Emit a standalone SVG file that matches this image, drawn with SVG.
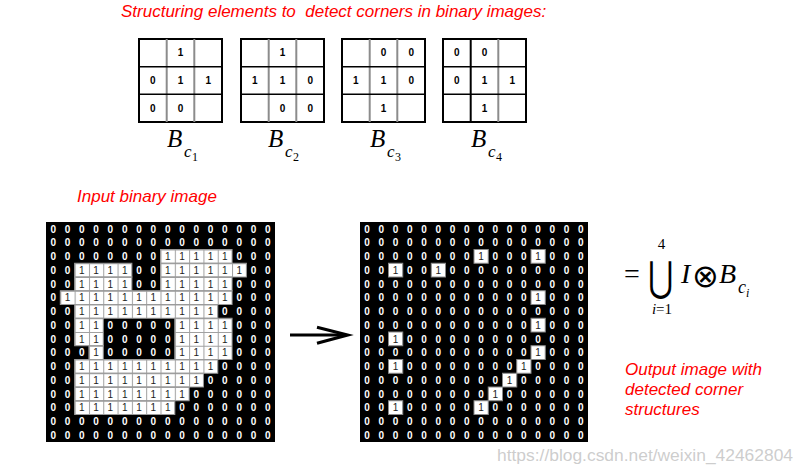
<svg xmlns="http://www.w3.org/2000/svg" width="801" height="473" viewBox="0 0 801 473">
<style>
.red{fill:#ff0000;font-family:"Liberation Sans",Arial,sans-serif;font-style:italic;font-size:17px}
.z{fill:#ffffff;font-family:"Liberation Sans",Arial,sans-serif;font-weight:bold;font-size:10px;text-anchor:middle}
.o{fill:#222222;font-weight:normal}
.se{fill:#000;font-family:"Liberation Sans",Arial,sans-serif;font-weight:bold;font-size:10px;text-anchor:middle}
.box{fill:#fff;stroke:#000;stroke-width:2}
.vl{stroke:#8c8c8c;stroke-width:2}
.hl{stroke:#000;stroke-width:1.5}
.mi{font-family:"Liberation Serif","Times New Roman",serif;font-style:italic;fill:#000}
.mr{font-family:"Liberation Serif","Times New Roman",serif;fill:#000}
.wc{fill:url(#cellIn);stroke:#9a9a9a;stroke-width:1}
.oc{fill:#fff;stroke:#8a8a8a;stroke-width:1}
</style>
<defs>
<pattern id="cellIn" patternUnits="userSpaceOnUse" x="46" y="222" width="14.3125" height="13.75">
<rect width="14.3125" height="13.75" fill="#fff"/>
<path d="M0 0.5H14.3125M0.5 0V13.75" stroke="#a0a0a0" stroke-width="1" fill="none"/>
</pattern>
</defs>
<rect width="801" height="473" fill="#fff"/>

<text id="title" class="red" x="121" y="17" xml:space="preserve">Structuring elements to  detect corners in binary images:</text>

<g id="se1">
<rect class="box" x="139" y="39" width="83" height="83"/>
<line class="vl" x1="166.7" y1="39" x2="166.7" y2="122"/><line class="vl" x1="194.3" y1="39" x2="194.3" y2="122"/>
<line class="hl" x1="139" y1="66.7" x2="222" y2="66.7"/><line class="hl" x1="139" y1="94.3" x2="222" y2="94.3"/>
<text class="se" x="180.5" y="56.4">1</text>
<text class="se" x="152.8 180.5 208.2" y="84.1">011</text>
<text class="se" x="152.8 180.5" y="111.8">00</text>
<text class="mi" x="167" y="147" font-size="25">B</text><text class="mi" x="184" y="157" font-size="17">c</text><text class="mr" x="192" y="161" font-size="12">1</text>
</g>
<g id="se2">
<rect class="box" x="241" y="39" width="83" height="83"/>
<line class="vl" x1="268.7" y1="39" x2="268.7" y2="122"/><line class="vl" x1="296.3" y1="39" x2="296.3" y2="122"/>
<line class="hl" x1="241" y1="66.7" x2="324" y2="66.7"/><line class="hl" x1="241" y1="94.3" x2="324" y2="94.3"/>
<text class="se" x="282.5" y="56.4">1</text>
<text class="se" x="254.8 282.5 310.2" y="84.1">110</text>
<text class="se" x="282.5 310.2" y="111.8">00</text>
<text class="mi" x="268" y="147" font-size="25">B</text><text class="mi" x="285" y="157" font-size="17">c</text><text class="mr" x="293" y="161" font-size="12">2</text>
</g>
<g id="se3">
<rect class="box" x="342" y="39" width="83" height="83"/>
<line class="vl" x1="369.7" y1="39" x2="369.7" y2="122"/><line class="vl" x1="397.3" y1="39" x2="397.3" y2="122"/>
<line class="hl" x1="342" y1="66.7" x2="425" y2="66.7"/><line class="hl" x1="342" y1="94.3" x2="425" y2="94.3"/>
<text class="se" x="383.5 411.2" y="56.4">00</text>
<text class="se" x="355.8 383.5 411.2" y="84.1">110</text>
<text class="se" x="383.5" y="111.8">1</text>
<text class="mi" x="370" y="147" font-size="25">B</text><text class="mi" x="387" y="157" font-size="17">c</text><text class="mr" x="395" y="161" font-size="12">3</text>
</g>
<g id="se4">
<rect class="box" x="443" y="39" width="83" height="83"/>
<line class="hl" x1="470.7" y1="39" x2="470.7" y2="122" style="stroke-width:2"/><line class="vl" x1="498.3" y1="39" x2="498.3" y2="122"/>
<line class="hl" x1="443" y1="66.7" x2="526" y2="66.7"/><line class="hl" x1="443" y1="94.3" x2="526" y2="94.3"/>
<text class="se" x="456.8 484.5" y="56.4">00</text>
<text class="se" x="456.8 484.5 512.2" y="84.1">011</text>
<text class="se" x="484.5" y="111.8">1</text>
<text class="mi" x="471" y="147" font-size="25">B</text><text class="mi" x="488" y="157" font-size="17">c</text><text class="mr" x="496" y="161" font-size="12">4</text>
</g>

<text id="inputLabel" class="red" x="77" y="202">Input binary image</text>

<g id="inputImage">
<rect x="46" y="222" width="229" height="220" fill="#000"/>
<rect class="wc" x="160.5" y="249.5" width="71.56" height="13.75"/>
<rect class="wc" x="74.63" y="263.25" width="57.25" height="13.75"/>
<rect class="wc" x="160.5" y="263.25" width="85.88" height="13.75"/>
<rect class="wc" x="74.63" y="277" width="57.25" height="13.75"/>
<rect class="wc" x="160.5" y="277" width="71.56" height="13.75"/>
<rect class="wc" x="60.31" y="290.75" width="171.75" height="13.75"/>
<rect class="wc" x="74.63" y="304.5" width="143.13" height="13.75"/>
<rect class="wc" x="74.63" y="318.25" width="28.63" height="27.5"/>
<rect class="wc" x="174.81" y="318.25" width="57.25" height="41.25"/>
<rect class="wc" x="88.94" y="345.75" width="14.31" height="13.75"/>
<rect class="wc" x="74.63" y="359.5" width="143.13" height="13.75"/>
<rect class="wc" x="74.63" y="373.25" width="128.81" height="13.75"/>
<rect class="wc" x="74.63" y="387" width="114.5" height="13.75"/>
<rect class="wc" x="74.63" y="400.75" width="100.19" height="13.75"/>
<text class="z" x="53.2 67.5 81.8 96.1 110.4 124.7 139 153.3 167.7 182 196.3 210.6 224.9 239.2 253.5 267.8" y="232.5">0000000000000000</text>
<text class="z" x="53.2 67.5 81.8 96.1 110.4 124.7 139 153.3 167.7 182 196.3 210.6 224.9 239.2 253.5 267.8" y="246.3">0000000000000000</text>
<text class="z" x="53.2 67.5 81.8 96.1 110.4 124.7 139 153.3 167.7 182 196.3 210.6 224.9 239.2 253.5 267.8" y="260">00000000<tspan class="o">11111</tspan>000</text>
<text class="z" x="53.2 67.5 81.8 96.1 110.4 124.7 139 153.3 167.7 182 196.3 210.6 224.9 239.2 253.5 267.8" y="273.8">00<tspan class="o">1111</tspan>00<tspan class="o">111111</tspan>00</text>
<text class="z" x="53.2 67.5 81.8 96.1 110.4 124.7 139 153.3 167.7 182 196.3 210.6 224.9 239.2 253.5 267.8" y="287.5">00<tspan class="o">1111</tspan>00<tspan class="o">11111</tspan>000</text>
<text class="z" x="53.2 67.5 81.8 96.1 110.4 124.7 139 153.3 167.7 182 196.3 210.6 224.9 239.2 253.5 267.8" y="301.3">0<tspan class="o">111111111111</tspan>000</text>
<text class="z" x="53.2 67.5 81.8 96.1 110.4 124.7 139 153.3 167.7 182 196.3 210.6 224.9 239.2 253.5 267.8" y="315">00<tspan class="o">1111111111</tspan>0000</text>
<text class="z" x="53.2 67.5 81.8 96.1 110.4 124.7 139 153.3 167.7 182 196.3 210.6 224.9 239.2 253.5 267.8" y="328.8">00<tspan class="o">11</tspan>00000<tspan class="o">1111</tspan>000</text>
<text class="z" x="53.2 67.5 81.8 96.1 110.4 124.7 139 153.3 167.7 182 196.3 210.6 224.9 239.2 253.5 267.8" y="342.5">00<tspan class="o">11</tspan>00000<tspan class="o">1111</tspan>000</text>
<text class="z" x="53.2 67.5 81.8 96.1 110.4 124.7 139 153.3 167.7 182 196.3 210.6 224.9 239.2 253.5 267.8" y="356.3">000<tspan class="o">1</tspan>00000<tspan class="o">1111</tspan>000</text>
<text class="z" x="53.2 67.5 81.8 96.1 110.4 124.7 139 153.3 167.7 182 196.3 210.6 224.9 239.2 253.5 267.8" y="370">00<tspan class="o">1111111111</tspan>0000</text>
<text class="z" x="53.2 67.5 81.8 96.1 110.4 124.7 139 153.3 167.7 182 196.3 210.6 224.9 239.2 253.5 267.8" y="383.8">00<tspan class="o">111111111</tspan>00000</text>
<text class="z" x="53.2 67.5 81.8 96.1 110.4 124.7 139 153.3 167.7 182 196.3 210.6 224.9 239.2 253.5 267.8" y="397.5">00<tspan class="o">11111111</tspan>000000</text>
<text class="z" x="53.2 67.5 81.8 96.1 110.4 124.7 139 153.3 167.7 182 196.3 210.6 224.9 239.2 253.5 267.8" y="411.3">00<tspan class="o">1111111</tspan>0000000</text>
<text class="z" x="53.2 67.5 81.8 96.1 110.4 124.7 139 153.3 167.7 182 196.3 210.6 224.9 239.2 253.5 267.8" y="425">0000000000000000</text>
<text class="z" x="53.2 67.5 81.8 96.1 110.4 124.7 139 153.3 167.7 182 196.3 210.6 224.9 239.2 253.5 267.8" y="438.8">0000000000000000</text>
</g>

<g id="connectors">
<line x1="290" y1="335" x2="346" y2="335" stroke="#000" stroke-width="2.8"/>
<polyline points="317,327.3 347.5,335 317,343.3" fill="none" stroke="#000" stroke-width="3.2" stroke-linejoin="miter"/>
</g>

<g id="outputImage">
<rect x="360" y="222" width="228" height="220" fill="#000"/>
<rect class="oc" x="474" y="249.5" width="14.25" height="13.75"/><rect class="oc" x="531" y="249.5" width="14.25" height="13.75"/>
<rect class="oc" x="388.5" y="263.25" width="14.25" height="13.75"/><rect class="oc" x="431.25" y="263.25" width="14.25" height="13.75"/>
<rect class="oc" x="531" y="290.75" width="14.25" height="13.75"/>
<rect class="oc" x="531" y="318.25" width="14.25" height="13.75"/>
<rect class="oc" x="388.5" y="332" width="14.25" height="13.75"/>
<rect class="oc" x="531" y="345.75" width="14.25" height="13.75"/>
<rect class="oc" x="388.5" y="359.5" width="14.25" height="13.75"/><rect class="oc" x="516.75" y="359.5" width="14.25" height="13.75"/>
<rect class="oc" x="502.5" y="373.25" width="14.25" height="13.75"/>
<rect class="oc" x="488.25" y="387" width="14.25" height="13.75"/>
<rect class="oc" x="388.5" y="400.75" width="14.25" height="13.75"/><rect class="oc" x="474" y="400.75" width="14.25" height="13.75"/>
<text class="z" x="367.1 381.4 395.6 409.9 424.1 438.4 452.6 466.9 481.1 495.4 509.6 523.9 538.1 552.4 566.6 580.9" y="232.5">0000000000000000</text>
<text class="z" x="367.1 381.4 395.6 409.9 424.1 438.4 452.6 466.9 481.1 495.4 509.6 523.9 538.1 552.4 566.6 580.9" y="246.3">0000000000000000</text>
<text class="z" x="367.1 381.4 395.6 409.9 424.1 438.4 452.6 466.9 481.1 495.4 509.6 523.9 538.1 552.4 566.6 580.9" y="260">00000000<tspan class="o">1</tspan>000<tspan class="o">1</tspan>000</text>
<text class="z" x="367.1 381.4 395.6 409.9 424.1 438.4 452.6 466.9 481.1 495.4 509.6 523.9 538.1 552.4 566.6 580.9" y="273.8">00<tspan class="o">1</tspan>00<tspan class="o">1</tspan>0000000000</text>
<text class="z" x="367.1 381.4 395.6 409.9 424.1 438.4 452.6 466.9 481.1 495.4 509.6 523.9 538.1 552.4 566.6 580.9" y="287.5">0000000000000000</text>
<text class="z" x="367.1 381.4 395.6 409.9 424.1 438.4 452.6 466.9 481.1 495.4 509.6 523.9 538.1 552.4 566.6 580.9" y="301.3">000000000000<tspan class="o">1</tspan>000</text>
<text class="z" x="367.1 381.4 395.6 409.9 424.1 438.4 452.6 466.9 481.1 495.4 509.6 523.9 538.1 552.4 566.6 580.9" y="315">0000000000000000</text>
<text class="z" x="367.1 381.4 395.6 409.9 424.1 438.4 452.6 466.9 481.1 495.4 509.6 523.9 538.1 552.4 566.6 580.9" y="328.8">000000000000<tspan class="o">1</tspan>000</text>
<text class="z" x="367.1 381.4 395.6 409.9 424.1 438.4 452.6 466.9 481.1 495.4 509.6 523.9 538.1 552.4 566.6 580.9" y="342.5">00<tspan class="o">1</tspan>0000000000000</text>
<text class="z" x="367.1 381.4 395.6 409.9 424.1 438.4 452.6 466.9 481.1 495.4 509.6 523.9 538.1 552.4 566.6 580.9" y="356.3">000000000000<tspan class="o">1</tspan>000</text>
<text class="z" x="367.1 381.4 395.6 409.9 424.1 438.4 452.6 466.9 481.1 495.4 509.6 523.9 538.1 552.4 566.6 580.9" y="370">00<tspan class="o">1</tspan>00000000<tspan class="o">1</tspan>0000</text>
<text class="z" x="367.1 381.4 395.6 409.9 424.1 438.4 452.6 466.9 481.1 495.4 509.6 523.9 538.1 552.4 566.6 580.9" y="383.8">0000000000<tspan class="o">1</tspan>00000</text>
<text class="z" x="367.1 381.4 395.6 409.9 424.1 438.4 452.6 466.9 481.1 495.4 509.6 523.9 538.1 552.4 566.6 580.9" y="397.5">000000000<tspan class="o">1</tspan>000000</text>
<text class="z" x="367.1 381.4 395.6 409.9 424.1 438.4 452.6 466.9 481.1 495.4 509.6 523.9 538.1 552.4 566.6 580.9" y="411.3">00<tspan class="o">1</tspan>00000<tspan class="o">1</tspan>0000000</text>
<text class="z" x="367.1 381.4 395.6 409.9 424.1 438.4 452.6 466.9 481.1 495.4 509.6 523.9 538.1 552.4 566.6 580.9" y="425">0000000000000000</text>
<text class="z" x="367.1 381.4 395.6 409.9 424.1 438.4 452.6 466.9 481.1 495.4 509.6 523.9 538.1 552.4 566.6 580.9" y="438.8">0000000000000000</text>
</g>

<g id="formula">
<text class="mr" x="624" y="283" font-size="28">=</text>
<text class="mr" x="661.5" y="248.5" font-size="15" text-anchor="middle">4</text>
<text x="0" y="0" font-family="DejaVu Sans,sans-serif" font-size="34" text-anchor="middle" transform="translate(660.5,290.5) scale(0.9,1.22)">⋃</text>
<text x="662" y="314" font-size="15" text-anchor="middle"><tspan class="mi">i</tspan><tspan class="mr">=1</tspan></text>
<text class="mi" x="681" y="283" font-size="28">I</text>
<text x="705" y="286.5" font-family="DejaVu Sans,sans-serif" font-weight="200" font-size="32" text-anchor="middle">⊗</text>
<text class="mi" x="719" y="283" font-size="28">B</text>
<text class="mi" x="738" y="293" font-size="18">c</text>
<text class="mi" x="746" y="297" font-size="12">i</text>
</g>

<g id="outputLabel">
<text class="red" x="625" y="375">Output image with</text>
<text class="red" x="625" y="395">detected corner</text>
<text class="red" x="625" y="415">structures</text>
</g>

<text id="watermark" x="497" y="461" font-family="Liberation Sans,Arial,sans-serif" font-size="16" fill="#c4c4c4" fill-opacity="0.85" textLength="296" lengthAdjust="spacingAndGlyphs">https://blog.csdn.net/weixin_42462804</text>
</svg>
